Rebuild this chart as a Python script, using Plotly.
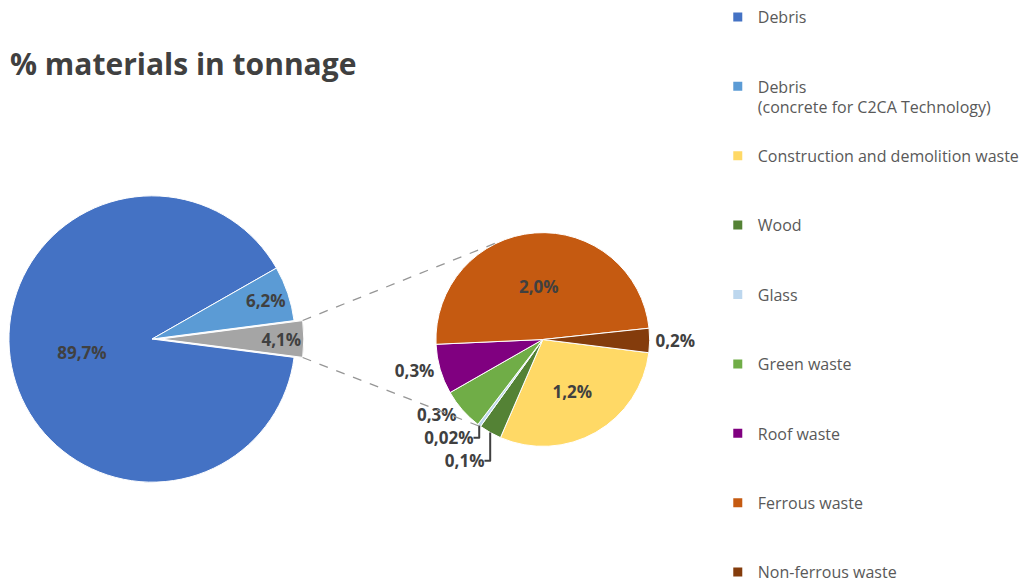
import math
import plotly.graph_objects as go

W, H = 1025, 583

# ---- data ----
main_labels = ["Debris", "Debris<br>(concrete for C2CA Technology)", "Other"]
main_values = [89.7, 6.2, 4.1]
main_text = ["89,7%", "6,2%", "4,1%"]
main_colors = ["#4472C4", "#5B9BD5", "#A5A5A5"]

sub_labels = ["Construction and demolition waste", "Wood", "Glass", "Green waste",
              "Roof waste", "Ferrous waste", "Non-ferrous waste"]
sub_values = [1.21, 0.14, 0.02, 0.26, 0.31, 2.01, 0.15]
sub_text = ["1,2%", "0,1%", "0,02%", "0,3%", "0,3%", "2,0%", "0,2%"]
sub_colors = ["#FFD966", "#548235", "#BDD7EE", "#70AD47", "#800080", "#C55A11", "#843C0C"]
sub_textpos = ["inside", "outside", "outside", "outside", "outside", "inside", "outside"]

# ---- geometry (pixels) ----
c1x, c1y, r1 = 153, 339, 144
pull = 0.06
c2x, c2y, r2 = 546, 339.5, 107.5
conn_top_deg, conn_bot_deg = 116.5, -126.0
sub_start_deg = 7.1  # clockwise offset from 3 o'clock where the first slice begins

def dom(cx, cy, half):
    return dict(x=[max(0, (cx - half) / W), min(1, (cx + half) / W)],
                y=[max(0, 1 - (cy + half) / H), min(1, 1 - (cy - half) / H)])

label_font = dict(family="Open Sans", size=17, color="#404040", weight="bold")

other_share = main_values[2] / sum(main_values)
rot_main = 90 + other_share * 180

fig = go.Figure()
fig.add_trace(go.Pie(
    labels=main_labels, values=main_values, text=main_text, textinfo="text",
    marker=dict(colors=main_colors, line=dict(color="white", width=1)),
    sort=False, direction="clockwise", rotation=rot_main,
    pull=[0, 0, pull], domain=dom(c1x, c1y, r1 * (1 + pull)),
    insidetextorientation="horizontal", textposition="inside",
    textfont=label_font, showlegend=False, hoverinfo="label+text",
))
fig.add_trace(go.Pie(
    labels=sub_labels, values=sub_values, text=sub_text, textinfo="text",
    marker=dict(colors=sub_colors, line=dict(color="white", width=1)),
    sort=False, direction="clockwise", rotation=90 + sub_start_deg,
    domain=dom(c2x, c2y, r2),
    insidetextorientation="horizontal", textposition=sub_textpos,
    textfont=label_font, outsidetextfont=label_font, showlegend=False,
    hoverinfo="label+text",
))

# legend entries
legend_names = main_labels[:2] + sub_labels
legend_colors = main_colors[:2] + sub_colors
last = len(legend_names) - 1
for i, (n, c) in enumerate(zip(legend_names, legend_colors)):
    name = n if ("<br>" in n or i == last) else n + "<br> "
    fig.add_trace(go.Scatter(x=[None], y=[None], mode="markers", name=name,
                             legendgroup=f"g{i}",
                             marker=dict(symbol="square", size=9, color=c)))

# connector lines
h = math.radians(other_share * 180)
px0 = c1x + pull * r1 + r1 * math.cos(h)
for sgn, ang in [(1, conn_top_deg), (-1, conn_bot_deg)]:
    py0 = c1y - sgn * r1 * math.sin(h)
    a = math.radians(ang)
    px1 = c2x + r2 * math.cos(a)
    py1 = c2y - r2 * math.sin(a)
    fig.add_shape(type="line", xref="paper", yref="paper",
                  x0=px0 / W, y0=1 - py0 / H, x1=px1 / W, y1=1 - py1 / H,
                  line=dict(color="#969696", width=1.3, dash="dash"))

fig.update_layout(
    width=W, height=H, margin=dict(l=0, r=0, t=0, b=0),
    paper_bgcolor="white", plot_bgcolor="white",
    xaxis=dict(visible=False, domain=[0.99, 1]), yaxis=dict(visible=False),
    title=dict(text="% materials in tonnage", x=10 / W, xanchor="left",
               y=1 - 64 / H, yanchor="middle",
               font=dict(family="Open Sans", size=30, color="#404040", weight="bold")),
    legend=dict(x=722 / W, y=1, xanchor="left", yanchor="top", valign="top",
                tracegroupgap=24.8, maxheight=800,
                font=dict(family="Open Sans", size=16, color="#595959"),
                bgcolor="rgba(0,0,0,0)"),
    separators=", ",
)
fig.write_html("out.html", config={"displayModeBar": False},
               post_script="document.body.style.margin='0';document.body.style.overflow='hidden';")
